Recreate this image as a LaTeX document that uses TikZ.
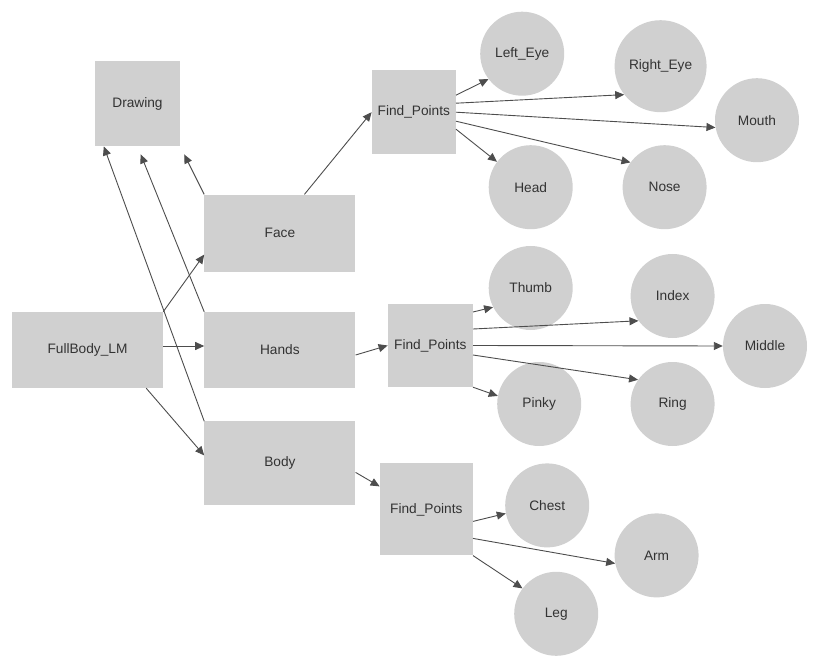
\documentclass[tikz,border=0pt]{standalone}
\usepackage{fontspec}
\setmainfont{Liberation Sans}
\usepackage{xcolor}
\usepackage{tikz}
\usetikzlibrary{arrows.meta, positioning}

\definecolor{boxgray}{HTML}{D0D0D0}
\definecolor{linegray}{HTML}{4D4D4D}
\definecolor{textgray}{HTML}{333333}

\begin{document}
\begin{tikzpicture}[
        box/.style={rectangle, fill=boxgray, inner sep=0pt, minimum width=151pt, minimum height=76pt, text=textgray, font=\fontsize{13.7}{16}\selectfont},
        joint/.style={circle, fill=boxgray, inner sep=0pt, minimum size=84pt, text=textgray, font=\fontsize{13.7}{16}\selectfont},
        arrow/.style={-{Triangle[length=9pt, width=8pt]}, line width=0.9pt, draw=linegray}
    ]
        \useasboundingbox (-87.5pt,-317pt) rectangle (729.5pt,350pt);

        % Main parts
        \node[box] (FullBody) at (0,0) {FullBody\_LM};
        \node[box, right=41pt of FullBody] (Hands) {Hands};
        \node[box, minimum height=77pt, above=40pt of Hands] (Face) {Face};
        \node[box, minimum height=84pt, below=33pt of Hands] (Body) {Body};
        \node[box, minimum width=85pt, minimum height=85pt, above left=48pt and 24pt of Face] (Drawing) {Drawing};

        % Find_Points
        \node[box, minimum width=84pt, minimum height=84pt, above right=40pt and 16pt of Face] (FPFace) {Find\_Points};
        \node[box, minimum width=85pt, minimum height=83pt, right=32pt of Hands, yshift=4.5pt] (FPHands) {Find\_Points};
        \node[box, minimum width=93pt, minimum height=92pt, right=24pt of Body, yshift=-46pt] (FPBody) {Find\_Points};

        % Face points
        \node[joint, right=24pt of FPFace, yshift=58.5pt] (LeftEye) {Left\_Eye};
        \node[joint, right=32.5pt of FPFace, yshift=-75pt] (Head) {Head};
        \node[joint, minimum size=92pt, right=50pt of LeftEye, yshift=-12.5pt] (RightEye) {Right\_Eye};
        \node[joint, right=49.5pt of Head] (Nose) {Nose};
        \node[joint, right=8pt of RightEye, yshift=-54pt] (Mouth) {Mouth};

        % Hand points
        \node[joint, right=15.5pt of FPHands, yshift=57.5pt] (Thumb) {Thumb};
        \node[joint, right=24pt of FPHands, yshift=-58.5pt] (Pinky) {Pinky};
        \node[joint, right=57.5pt of Thumb, yshift=-8pt] (Index) {Index};
        \node[joint, right=49pt of Pinky] (Ring) {Ring};
        \node[joint, right=8pt of Index, yshift=-50pt] (Middle) {Middle};

        % Body points
        \node[joint, right=32pt of FPBody, yshift=4pt] (Chest) {Chest};
        \node[joint, below=24pt of Chest, xshift=9pt] (Leg) {Leg};
        \node[joint, right=25pt of Chest, yshift=-50pt] (Arm) {Arm};

        % Connectors
        \draw[arrow] (FullBody.north east) -- ([yshift=-21.5pt]Face.west);
        \draw[arrow] ([yshift=4pt]FullBody.east) -- ([yshift=4pt]Hands.west);
        \draw[arrow] ([xshift=-17pt]FullBody.south east) -- ([yshift=8pt]Body.west);

        \draw[arrow, shorten >=9pt] (Face.north west) -- (Drawing.south east);
        \draw[arrow, shorten >=8.6pt] (Hands.north west) -- (Drawing.south);
        \draw[arrow] (Body.north west) -- ([xshift=9pt]Drawing.south west);

        \draw[arrow] ([xshift=24.5pt]Face.north) -- (FPFace.west);
        \draw[arrow] ([yshift=-5pt]Hands.east) -- (FPHands.west);
        \draw[arrow] ([yshift=-9pt]Body.east) -- ([yshift=23pt]FPBody.west);

        \draw[arrow] ([yshift=17pt]FPFace.east) -- (LeftEye.217);
        \draw[arrow] ([yshift=9pt]FPFace.east) -- (RightEye.218);
        \draw[arrow] (FPFace.east) -- (Mouth.190);
        \draw[arrow] ([yshift=-9pt]FPFace.east) -- (Nose.144);
        \draw[arrow] ([yshift=-17pt]FPFace.east) -- (Head.143);

        \draw[arrow] ([yshift=33.5pt]FPHands.east) -- (Thumb.207);
        \draw[arrow] ([yshift=16.5pt]FPHands.east) -- (Index.216);
        \draw[arrow] (FPHands.east) -- (Middle.west);
        \draw[arrow] ([yshift=-9.5pt]FPHands.east) -- (Ring.145);
        \draw[arrow] (FPHands.south east) -- (Pinky.169);

        \draw[arrow] ([yshift=-12pt]FPBody.east) -- (Chest.191);
        \draw[arrow] ([yshift=-29pt]FPBody.east) -- (Arm.191);
        \draw[arrow] (FPBody.south east) -- (Leg.143);

    \end{tikzpicture}
\end{document}
